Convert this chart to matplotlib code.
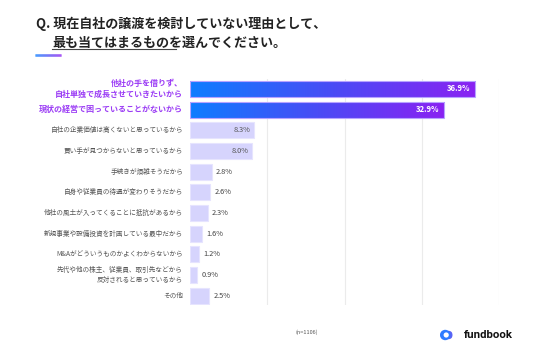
import matplotlib
matplotlib.use("Agg")
import matplotlib.pyplot as plt
import numpy as np
from matplotlib.patches import Rectangle, Circle, FancyBboxPatch
from matplotlib.colors import LinearSegmentedColormap

plt.rcParams['font.family'] = ['Noto Sans CJK JP', 'DejaVu Sans']

categories = [
    "他社の手を借りず、\n自社単独で成長させていきたいから",
    "現状の経営で困っていることがないから",
    "自社の企業価値は高くないと思っているから",
    "買い手が見つからないと思っているから",
    "手続きが煩雑そうだから",
    "自身や従業員の待遇が変わりそうだから",
    "他社の風土が入ってくることに抵抗があるから",
    "新規事業や設備投資を計画している最中だから",
    "M&Aがどういうものかよくわからないから",
    "先代や他の株主、従業員、取引先などから\n反対されると思っているから",
    "その他",
]
values = [36.9, 32.9, 8.3, 8.0, 2.8, 2.6, 2.3, 1.6, 1.2, 0.9, 2.5]
value_labels = ["36.9%", "32.9%", "8.3%", "8.0%", "2.8%", "2.6%", "2.3%", "1.6%", "1.2%", "0.9%", "2.5%"]
highlight = [True, True] + [False] * 9

W, H = 536, 357
fig = plt.figure(figsize=(W / 100, H / 100), dpi=100)
fig.patch.set_facecolor("white")

ax_left, ax_right = 190 / W, 499.3 / W
ax_top, ax_bot = 79 / H, 305 / H
ax = fig.add_axes([ax_left, 1 - ax_bot, ax_right - ax_left, ax_bot - ax_top])
ax.set_xlim(0, 40)
ax.set_ylim(10.45, -0.48)
for s in ax.spines.values():
    s.set_visible(False)
ax.set_xticks([10, 20, 30, 40])
ax.xaxis.grid(True, color="#ebebeb", linewidth=0.8)
ax.set_axisbelow(True)
ax.tick_params(length=0, labelbottom=False)
ax.set_yticks([])

grad_cmap = LinearSegmentedColormap.from_list("g", ["#0f7dff", "#4a4bf5", "#8a22f2"])
bar_h = 0.78
for i, (v, hl) in enumerate(zip(values, highlight)):
    if hl:
        rect = Rectangle((0, i - bar_h / 2), v, bar_h, facecolor="none",
                         edgecolor="#b7a3ff", linewidth=0.8, zorder=3)
        ax.add_patch(rect)
        grad = np.linspace(0, 1, 256).reshape(1, -1)
        im = ax.imshow(grad, cmap=grad_cmap, aspect="auto",
                       extent=(0, v, i + bar_h / 2, i - bar_h / 2), zorder=2)
        im.set_clip_path(rect)
        ax.text(v - 0.65, i, value_labels[i], ha="right", va="center",
                color="white", fontsize=5.6, fontweight="bold", zorder=4)
    else:
        ax.barh(i, v, height=bar_h, color="#d6d4fd", edgecolor="#e6e4fe",
                linewidth=0.8, zorder=2)
        if v > 5:
            ax.text(v - 0.45, i, value_labels[i], ha="right", va="center",
                    color="#555555", fontsize=5.3, zorder=4)
        else:
            ax.text(v + 0.55, i, value_labels[i], ha="left", va="center",
                    color="#444444", fontsize=5.3, zorder=4)
ax.set_ylim(10.45, -0.48)
ax.set_xlim(0, 40)

# category labels
for i, c in enumerate(categories):
    if highlight[i]:
        ax.text(-0.9, i, c, ha="right", va="center", color="#9b3cf5",
                fontsize=5.8, fontweight="bold", linespacing=1.25)
    else:
        ax.text(-0.9, i, c, ha="right", va="center", color="#555555",
                fontsize=4.8, linespacing=1.3)

# title
fig.text(36 / W, 1 - 24 / H, "Q. 現在自社の譲渡を検討していない理由として、",
         ha="left", va="center", fontsize=9.4, fontweight="bold", color="#222222")
fig.text(52 / W, 1 - 42.5 / H, "最も当てはまるものを選んでください。",
         ha="left", va="center", fontsize=9.4, fontweight="bold", color="#222222")
fig.add_artist(plt.Line2D([52 / W, 176 / W], [1 - 48.5 / H, 1 - 48.5 / H],
                          color="#444444", linewidth=0.8))
# short gradient line
xs = np.linspace(35, 61, 30)
for k in range(len(xs) - 1):
    fig.add_artist(plt.Line2D([xs[k] / W, xs[k + 1] / W], [1 - 54.5 / H, 1 - 54.5 / H],
                              color=grad_cmap(k / (len(xs) - 2)), linewidth=1.8,
                              solid_capstyle="butt"))

# footer
fig.text(307 / W, 1 - 332 / H, "(n=1106)", ha="center", va="center",
         fontsize=4, color="#555555")

# logo
lax = fig.add_axes([438 / W, 1 - 343 / H, 18 / W, 16 / H])
lax.set_xlim(0, 18)
lax.set_ylim(0, 16)
lax.set_aspect("equal")
lax.axis("off")
lax.add_patch(FancyBboxPatch((2.5, 3.8), 12, 8.4, boxstyle="round,pad=0,rounding_size=4.2",
                             facecolor="#5a63f5", edgecolor="none"))
lax.add_patch(Circle((7.2, 8), 5.2, facecolor="#2d7cff", edgecolor="none"))
lax.add_patch(Circle((8.2, 8), 2.6, facecolor="white", edgecolor="none"))
fig.text(464 / W, 1 - 335 / H, "fundbook", ha="left", va="center",
         fontsize=8.2, fontweight="bold", color="#111111", family=["Roboto", "DejaVu Sans"])

fig.savefig("out.png", dpi=100, facecolor="white")
